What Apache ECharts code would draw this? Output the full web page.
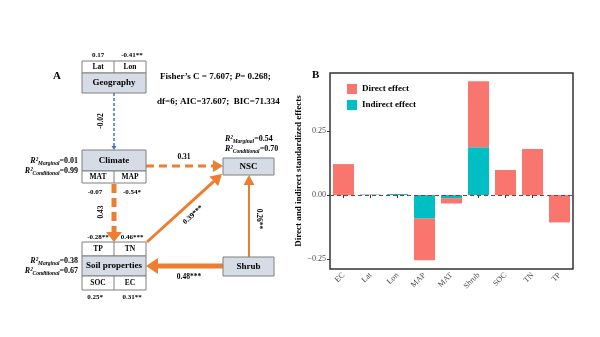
<!DOCTYPE html>
<html><head><meta charset="utf-8">
<script src="https://cdn.jsdelivr.net/npm/echarts@6/dist/echarts.min.js"></script>
<style>html,body{margin:0;padding:0;background:#fff}#c{width:600px;height:337px}</style>
</head><body><div id="c"></div>
<script>
// ---------- Panel B data ----------
const categories = ['EC','Lat','Lon','MAP','MAT','Shrub','SOC','TN','TP'];
const directEffect = [0.121, 0, 0, -0.163, -0.021, 0.258, 0.098, 0.180, -0.107];
const indirectEffect = [0, 0.002, 0.004, -0.092, -0.012, 0.187, 0, 0, 0];
const yTickValues = [-0.25, 0, 0.25];

// ---------- Panel A data ----------
const nodeNames = ['Geography','Climate','Soil properties','NSC','Shrub'];
const topVars = {'Geography':['Lat','Lon'], 'Soil properties':['TP','TN']};
const bottomVars = {'Climate':['MAT','MAP'], 'Soil properties':['SOC','EC']};
const varCoefs = {Lat:'0.17', Lon:'-0.41**', MAT:'-0.07', MAP:'-0.54*', TP:'-0.28**', TN:'0.46***', SOC:'0.25*', EC:'0.31**'};
const paths = [
  {from:'Geography', to:'Climate', coef:'-0.02'},
  {from:'Climate', to:'NSC', coef:'0.31'},
  {from:'Climate', to:'Soil properties', coef:'0.43'},
  {from:'Soil properties', to:'NSC', coef:'0.39***'},
  {from:'Shrub', to:'NSC', coef:'0.26**'},
  {from:'Shrub', to:'Soil properties', coef:'0.48***'}
];
const r2Values = {'Climate':['0.01','0.99'], 'Soil properties':['0.38','0.67'], 'NSC':['0.54','0.70']};
const fitStats = {C:'7.607', P:'0.268', df:'6', AIC:'37.607', BIC:'71.334'};

// ---------- Panel A layout (diagram units) ----------
const nodeLayout = {
  'Geography':      {x:82, y:61,  w:64, topH:12, mainH:20, botH:0,  topOff:6, botOff:0},
  'Climate':        {x:82, y:150, w:64, topH:0,  mainH:21, botH:12, topOff:0, botOff:9},
  'Soil properties':{x:82, y:242, w:64, topH:14, mainH:20, botH:14, topOff:5, botOff:7},
  'NSC':            {x:223,y:158, w:51, topH:0,  mainH:17, botH:0},
  'Shrub':          {x:223,y:257, w:51, topH:0,  mainH:19, botH:0}
};
const pathGeom = [
  {p:[114,93,114,150],  color:'#4472C4', w:1.5, dash:[3,2],  L:4,  W:2.5, lab:[101,121], rot:90},
  {p:[146,166,223,166], color:'#ED7D31', w:3,   dash:[8,5],  L:10, W:6,   lab:[184,157], rot:0},
  {p:[114,184,114,242], color:'#ED7D31', w:5,   dash:[9,5],  L:10, W:8,   lab:[101,212], rot:90},
  {p:[147,242,222,174], color:'#ED7D31', w:3,   dash:null,   L:11, W:6.5, lab:[193,215], rot:42},
  {p:[249,257,249,175], color:'#ED7D31', w:2,   dash:null,   L:10, W:5.5, lab:[259,219], rot:-90},
  {p:[223,266,146,266], color:'#ED7D31', w:5,   dash:null,   L:12, W:8,   lab:[189,277], rot:0}
];
const r2Layout = {
  'Climate':        {x:78,  y:161, align:'right'},
  'Soil properties':{x:78,  y:261, align:'right'},
  'NSC':            {x:225, y:139, align:'left'}
};

const SERIF = '"Liberation Serif", "DejaVu Serif", serif';
const chart = echarts.init(document.getElementById('c'), null, {renderer:'canvas'});

function txt(api, x, y, text, opt) {
  const p = api.coord([x, y]);
  opt = opt || {};
  return {
    type:'text', x:p[0], y:p[1], rotation:(opt.rot||0)*Math.PI/180,
    style:Object.assign({
      text:text, fill:'#000', fontFamily:SERIF, fontWeight:'bold',
      fontSize:opt.size||7.5, align:opt.align||'center', verticalAlign:'middle'
    }, opt.extra||{})
  };
}
function rectEl(api, x, y, w, h, fill) {
  const p = api.coord([x, y]); const q = api.coord([x + w, y + h]);
  return {type:'rect', shape:{x:p[0], y:p[1], width:q[0]-p[0], height:q[1]-p[1]},
          style:{fill:fill, stroke:'#7F7F7F', lineWidth:1}};
}

function renderDiagram(params, api) {
  const ch = [];
  // arrows
  paths.forEach((pa, i) => {
    const g = pathGeom[i];
    const a = api.coord([g.p[0], g.p[1]]), b = api.coord([g.p[2], g.p[3]]);
    const dx = b[0]-a[0], dy = b[1]-a[1], len = Math.hypot(dx, dy);
    const ux = dx/len, uy = dy/len, nx = -uy, ny = ux;
    const bx = b[0]-ux*g.L, by = b[1]-uy*g.L;
    ch.push({type:'line', shape:{x1:a[0], y1:a[1], x2:bx, y2:by},
      style:{stroke:g.color, lineWidth:g.w, lineDash:g.dash||null}});
    ch.push({type:'polygon', shape:{points:[[b[0],b[1]],[bx+nx*g.W, by+ny*g.W],[bx-nx*g.W, by-ny*g.W]]},
      style:{fill:g.color}});
    ch.push(txt(api, g.lab[0], g.lab[1], pa.coef, {rot:g.rot, size:7.5}));
  });
  // nodes
  nodeNames.forEach(n => {
    const L = nodeLayout[n];
    let y = L.y;
    const mid = L.x + L.w/2;
    if (L.topH) {
      ch.push(rectEl(api, L.x, y, L.w, L.topH, '#fff'));
      const a = api.coord([mid, y]), b = api.coord([mid, y+L.topH]);
      ch.push({type:'line', shape:{x1:a[0], y1:a[1], x2:b[0], y2:b[1]}, style:{stroke:'#7F7F7F', lineWidth:1}});
      topVars[n].forEach((v, k) => {
        const cx = L.x + L.w*(k*2+1)/4;
        ch.push(txt(api, cx, y + L.topH/2, v, {size:7.5}));
        ch.push(txt(api, cx + (k ? 2 : 0), L.y - L.topOff, varCoefs[v], {size:7}));
      });
      y += L.topH;
    }
    ch.push(rectEl(api, L.x, y, L.w, L.mainH, '#D6DCE5'));
    ch.push(txt(api, mid, y + L.mainH/2, n, {size:9}));
    y += L.mainH;
    if (L.botH) {
      ch.push(rectEl(api, L.x, y, L.w, L.botH, '#fff'));
      const a = api.coord([mid, y]), b = api.coord([mid, y+L.botH]);
      ch.push({type:'line', shape:{x1:a[0], y1:a[1], x2:b[0], y2:b[1]}, style:{stroke:'#7F7F7F', lineWidth:1}});
      bottomVars[n].forEach((v, k) => {
        const cx = L.x + L.w*(k*2+1)/4;
        ch.push(txt(api, cx, y + L.botH/2, v, {size:7.5}));
        ch.push(txt(api, cx + (k ? 2 : -3), y + L.botH + L.botOff, varCoefs[v], {size:7}));
      });
    }
  });
  // R2 notes
  Object.keys(r2Values).forEach(n => {
    const R = r2Layout[n], v = r2Values[n];
    const rich = {
      r:{fontFamily:SERIF, fontWeight:'bold', fontStyle:'italic', fontSize:8, lineHeight:11, verticalAlign:'middle'},
      s:{fontFamily:SERIF, fontWeight:'bold', fontStyle:'italic', fontSize:5.5, lineHeight:11, verticalAlign:'bottom'},
      v:{fontFamily:SERIF, fontWeight:'bold', fontSize:8, lineHeight:11, verticalAlign:'middle'}
    };
    ch.push(txt(api, R.x, R.y, '{r|R²}{s|Marginal}{v|=' + v[0] + '}', {align:R.align, extra:{rich:rich}}));
    ch.push(txt(api, R.x, R.y + 10, '{r|R²}{s|Conditional}{v|=' + v[1] + '}', {align:R.align, extra:{rich:rich}}));
  });
  return {type:'group', children:ch};
}

const option = {
  backgroundColor:'#fff',
  animation:false,
  grid:[
    {left:0, top:0, width:300, height:337, show:false},
    {left:330, top:73, width:243, height:196, show:true, borderColor:'#333', borderWidth:1.5, backgroundColor:'#fff'}
  ],
  xAxis:[
    {gridIndex:0, type:'value', min:0, max:300, show:false},
    {gridIndex:1, type:'category', data:categories,
     axisLine:{show:false},
     axisTick:{show:true, alignWithLabel:true, length:3, lineStyle:{color:'#333'}},
     axisLabel:{rotate:45, fontFamily:SERIF, fontSize:8, color:'#4d4d4d', margin:5, interval:0}}
  ],
  yAxis:[
    {gridIndex:0, type:'value', min:0, max:337, inverse:true, show:false},
    {gridIndex:1, type:'value', min:-0.289, max:0.477,
     name:'Direct and indirect standardized effects', nameLocation:'middle', nameGap:24,
     nameTextStyle:{fontFamily:SERIF, fontWeight:'bold', fontSize:9, color:'#000'},
     axisLine:{show:false}, splitLine:{show:false},
     axisTick:{show:true, length:3, customValues:yTickValues, lineStyle:{color:'#333'}},
     axisLabel:{customValues:yTickValues, fontFamily:SERIF, fontSize:8, color:'#4d4d4d', margin:4,
       formatter:v => (v < 0 ? '\u2212' : '') + Math.abs(v).toFixed(2)}}
  ],
  legend:{
    data:['Direct effect','Indirect effect'], orient:'vertical', left:342, top:79,
    itemWidth:10, itemHeight:10, itemGap:6, icon:'rect',
    textStyle:{fontFamily:SERIF, fontWeight:'bold', fontSize:9, color:'#000'}
  },
  graphic:[
    {type:'text', left:53, top:71, style:{text:'A', fontFamily:SERIF, fontWeight:'bold', fontSize:11, fill:'#000'}},
    {type:'text', left:312, top:70, style:{text:'B', fontFamily:SERIF, fontWeight:'bold', fontSize:11, fill:'#000'}},
    {type:'text', left:160, top:72, style:{
      text:'{b|Fisher\u2019s C = ' + fitStats.C + '; }{i|P}{b|= ' + fitStats.P + ';}',
      rich:{b:{fontFamily:SERIF, fontWeight:'bold', fontSize:9, fill:'#000'},
            i:{fontFamily:SERIF, fontWeight:'bold', fontStyle:'italic', fontSize:9, fill:'#000'}}}},
    {type:'text', left:157, top:97, style:{
      text:'df=' + fitStats.df + '; AIC=' + fitStats.AIC + ';  BIC=' + fitStats.BIC,
      fontFamily:SERIF, fontWeight:'bold', fontSize:9, fill:'#000'}}
  ],
  series:[
    {type:'custom', xAxisIndex:0, yAxisIndex:0, data:[[0,0]], renderItem:renderDiagram, silent:true, clip:false, z:5},
    {name:'Indirect effect', type:'bar', stack:'eff', xAxisIndex:1, yAxisIndex:1, data:indirectEffect,
     barWidth:'78%', itemStyle:{color:'#00BFC4'}},
    {name:'Direct effect', type:'bar', stack:'eff', xAxisIndex:1, yAxisIndex:1, data:directEffect,
     barWidth:'78%', itemStyle:{color:'#F8766D'},
     markLine:{silent:true, symbol:'none', label:{show:false},
       lineStyle:{color:'#8B3A3A', type:[4,3], width:1}, data:[{yAxis:0}]}}
  ]
};
chart.setOption(option);
</script></body></html>
